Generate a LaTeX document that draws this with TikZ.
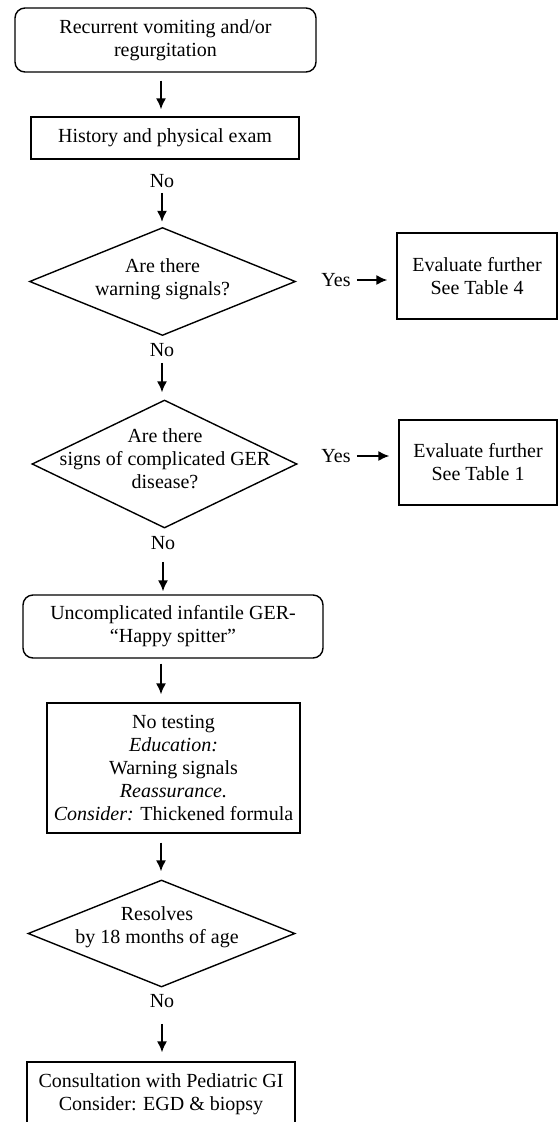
\documentclass[tikz,border=0pt]{standalone}
\usepackage{fontspec}
\setmainfont{Liberation Serif}
\usetikzlibrary{arrows.meta,shapes.geometric}
\begin{document}
\begin{tikzpicture}[x=1pt,y=-1pt,
  every node/.style={font=\fontsize{20}{23}\selectfont, inner sep=0pt, align=center},
  boxshape/.style={draw, line width=1.4pt, rectangle},
  roundshape/.style={boxshape, rounded corners=10pt},
  diashape/.style={draw, line width=1.4pt, diamond, inner sep=0pt},
  arr/.style={-{Latex[length=11pt,width=10pt]}, line width=1.5pt}]
\fill[white] (0,0) rectangle (558,1122);
\useasboundingbox (0,0) rectangle (558,1122);

% main column
\node[roundshape, minimum width=301pt, minimum height=64pt] (top) at (165.5,40)
  {Recurrent vomiting and/or\\regurgitation};
\node[boxshape, minimum width=268pt, minimum height=42pt] (hist) at (165,138)
  {History and physical exam};
\node (no1) at (162,181) {No};

\node[diashape, minimum width=266pt, minimum height=108pt] (d1) at (162.5,281.5) {};
\node (d1t) at (162.5,279) {Are there\\warning signals?};
\node (yes1) at (336,280) {Yes};
\node[boxshape, minimum width=160pt, minimum height=86pt] (t4) at (477,276)
  {Evaluate further\\See Table 4};

\node (no2) at (162,350) {No};

\node[diashape, minimum width=265pt, minimum height=128pt] (d2) at (164.5,464) {};
\node (d2t) at (165,459) {Are there\\signs of complicated GER\\disease?};
\node (yes2) at (336,456) {Yes};
\node[boxshape, minimum width=158pt, minimum height=85pt] (t1) at (478,462.5)
  {Evaluate further\\See Table 1};

\node (no3) at (163,543) {No};

\node[roundshape, minimum width=300pt, minimum height=63pt] (happy) at (173,626.5)
  {Uncomplicated infantile GER-\\“Happy spitter”};
\node[boxshape, minimum width=253pt, minimum height=130pt] (notest) at (173.5,768)
  {No testing\\\textit{Education:}\\Warning signals\\\textit{Reassurance.}\\\textit{Consider:} Thickened formula};

\node[diashape, minimum width=267pt, minimum height=107pt] (d3) at (161.5,933.5) {};
\node (d3t) at (157,927) {Resolves\\by 18 months of age};

\node (no4) at (162,1001) {No};

\node[boxshape, minimum width=268pt, minimum height=65pt] (cons) at (161,1094.5)
  {Consultation with Pediatric GI\\Consider: EGD \& biopsy};

\coordinate (col) at (161,0);

% connectors
\draw[arr, shorten <=8pt, shorten >=7pt] (top.south -| col) -- (hist.north -| col);
\draw[arr, shorten <=5pt, shorten >=5pt] (no1.south) -- (d1.north -| no1);
\draw[arr, shorten <=6pt, shorten >=9pt] (yes1.east) -- (t4.west |- yes1);
\draw[arr, shorten <=6pt, shorten >=7pt] (no2.south) -- (d2.north -| no2);
\draw[arr, shorten <=6pt, shorten >=9pt] (yes2.east) -- (t1.west |- yes2);
\draw[arr, shorten <=12pt, shorten >=3pt] (no3.south) -- (happy.north -| no3);
\draw[arr, shorten <=5pt, shorten >=8pt] (happy.south -| col) -- (notest.north -| col);
\draw[arr, shorten <=9pt, shorten >=8pt] (notest.south -| col) -- (d3.north -| col);
\draw[arr, shorten <=16pt, shorten >=9pt] (no4.south) -- (cons.north -| no4);
\end{tikzpicture}
\end{document}
